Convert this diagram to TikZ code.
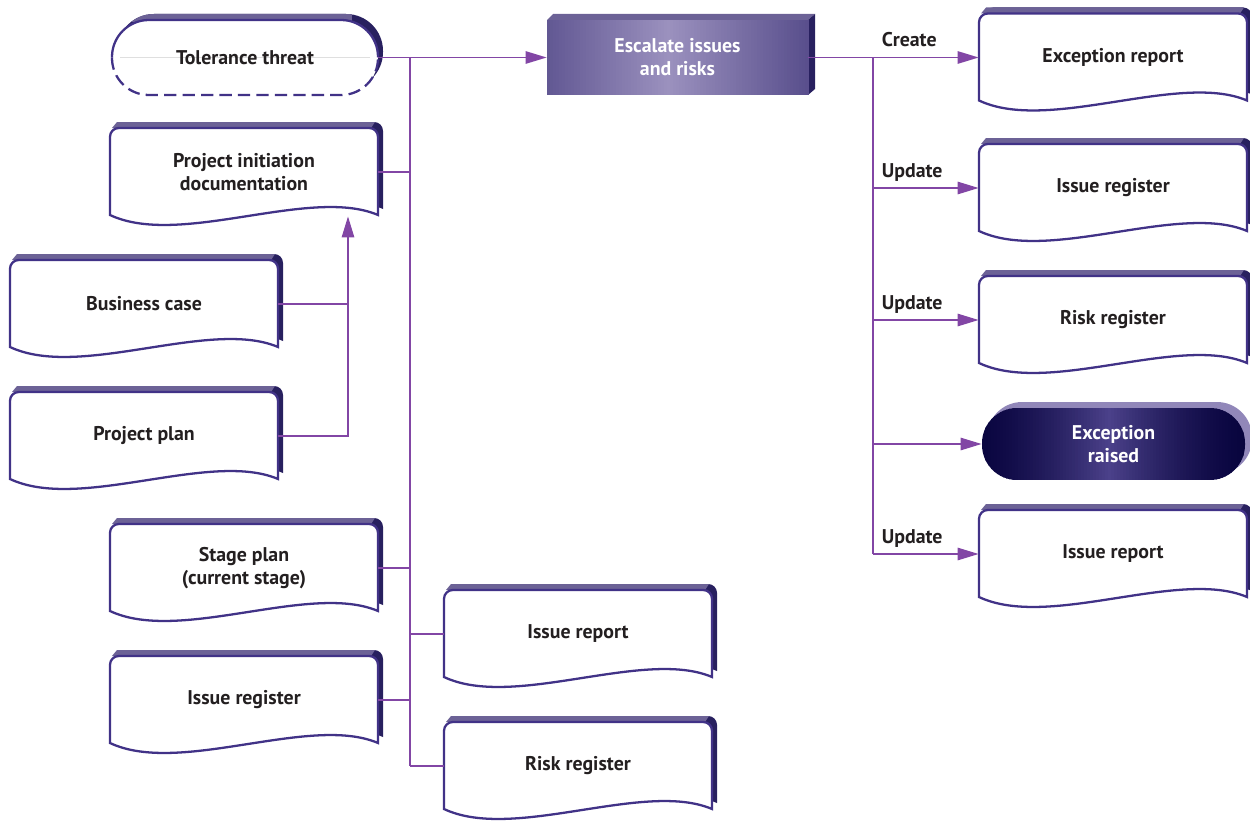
\documentclass[tikz,border=0pt]{standalone}
\usepackage{fontspec}
\setmainfont{PT Sans}
\usepackage{tikz}
\usetikzlibrary{arrows.meta,positioning,calc}
\definecolor{lnkcol}{RGB}{130,70,165}
\definecolor{edgecol}{RGB}{65,50,135}
\definecolor{sidecol}{RGB}{40,32,95}
\definecolor{topcol}{RGB}{108,98,150}
\definecolor{esccol}{RGB}{88,78,140}
\definecolor{esclite}{RGB}{155,145,190}
\definecolor{navycol}{RGB}{8,4,62}
\definecolor{navylite}{RGB}{75,65,138}
\definecolor{raisecol}{RGB}{145,135,185}
\definecolor{txtcol}{RGB}{35,31,32}
\newcommand{\docface}[1]{\path[#1] (0,87) [rounded corners=5pt] -- (0,0) -- (268,0) -- (268,60) [sharp corners] -- (268,87)
  .. controls (200,58) and (70,120) .. (0,87) -- cycle;}
\newcommand{\docbox}[4]{%
  \begin{scope}[shift={(#2,#3)}]
    \begin{scope}[shift={(5,-6)}]\docface{fill=sidecol}\end{scope}
    \fill[topcol] (2,0) -- (7,-6) -- (265,-6) -- (261,0) -- cycle;
    \docface{draw=edgecol, line width=1.3pt, fill=white}
    \node[docnode] (#1) at (134,44) {#4};
  \end{scope}}

\begin{document}
\begin{tikzpicture}[x=0.02cm, y=-0.02cm, >={Triangle[length=12pt,width=7pt]},
  docnode/.style={minimum width=5.36cm, minimum height=1.76cm, inner sep=0pt, align=center,
    text=txtcol, font=\bfseries\fontsize{11.3}{13}\selectfont},
  plainnode/.style={minimum width=5.3cm, minimum height=1.5cm, inner sep=0pt, align=center,
    text=txtcol, font=\bfseries\fontsize{11.3}{13}\selectfont},
  edge/.style={draw=edgecol, line width=1.3pt},
  lnk/.style={draw=lnkcol, line width=1.1pt},
  lbl/.style={pos=0, anchor=base west, xshift=4.5pt, yshift=6pt, inner sep=0pt,
    text=txtcol, font=\bfseries\fontsize{11.3}{13}\selectfont}]
\useasboundingbox (0,0) rectangle (1250,821);

\fill[sidecol, rounded corners=21pt] (117,14) rectangle (383,89);
\begin{scope}
  \clip[rounded corners=21pt] (117,14) rectangle (383,89);
  \fill[topcol] (110,10) rectangle (352,22);
\end{scope}
\fill[white, rounded corners=21pt] (112,20) rectangle (378,95);
\draw[gray!25, very thin] (120,57.5) -- (370,57.5);
\draw[edge, rounded corners=21pt] (112,57.5) -- (112,20) -- (378,20) -- (378,57.5);
\draw[edge, dashed, dash pattern=on 7pt off 3.5pt, rounded corners=21pt] (112,57.5) -- (112,95) -- (378,95) -- (378,57.5);
\node[plainnode] (tt) at (245,57.5) {Tolerance threat};

\fill[topcol] (547,20) -- (553,14) -- (815,14) -- (808,20) -- cycle;
\fill[sidecol] (808,20) -- (815,14) -- (815,89) -- (808,95) -- cycle;
\foreach \i in {0,...,86} {
  \pgfmathsetmacro{\m}{100*(1-abs(\i-40)/47)}
  \fill[esclite!\m!esccol] (547+3*\i,20) rectangle (551+3*\i,95);
}
\node[plainnode, minimum width=5.22cm, text=white] (esc) at (677.5,57.5) {Escalate issues\\and risks};

\fill[raisecol, rounded corners=20pt] (987,402) rectangle (1252,474);
\begin{scope}
  \clip[rounded corners=20pt] (982,408) rectangle (1245,480);
  \foreach \i in {0,...,87} {
    \pgfmathsetmacro{\m}{100*(1-abs(\i-42)/46)^1.5}
    \fill[navylite!\m!navycol] (982+3*\i,408) rectangle (986+3*\i,480);
  }
\end{scope}
\node[plainnode, minimum width=5.26cm, minimum height=1.44cm, text=white] (xr) at (1113.5,444) {Exception\\raised};

\docbox{pid}{110}{128}{Project initiation\\documentation}
\docbox{bc}{10}{260}{Business case}
\docbox{pp}{10}{392}{Project plan}
\docbox{sp}{110}{524}{Stage plan\\(current stage)}
\docbox{irl}{110}{656}{Issue register}
\docbox{irm}{444}{590}{Issue report}
\docbox{rrm}{444}{722}{Risk register}
\docbox{er}{979}{13.5}{Exception report}
\docbox{irr}{979}{144}{Issue register}
\docbox{rrr}{979}{276}{Risk register}
\docbox{irp}{979}{510}{Issue report}

\coordinate (lx) at (410,0);
\coordinate (bx) at (348,0);
\coordinate (rx) at (873,0);

\draw[lnk,->] (tt.east) -- (esc.west);
\draw[lnk] (tt.east -| lx) -- (rrm.west -| lx);
\draw[lnk] (pid.east) -- (pid.east -| lx);
\draw[lnk] (sp.east) -- (sp.east -| lx);
\draw[lnk] (irl.east) -- (irl.east -| lx);
\draw[lnk] (irm.west -| lx) -- (irm.west);
\draw[lnk] (rrm.west -| lx) -- (rrm.west);
\draw[lnk] (bc.east) -- (bc.east -| bx);
\draw[lnk,->] (pp.east) -- (pp.east -| bx) -- (pid.south -| bx);

\draw[lnk] (esc.east) -- (esc.east -| rx) -- (irp.west -| rx);
\draw[lnk,->] (er.west -| rx) -- node[lbl] {Create} (er.west);
\draw[lnk,->] (irr.west -| rx) -- node[lbl] {Update} (irr.west);
\draw[lnk,->] (rrr.west -| rx) -- node[lbl] {Update} (rrr.west);
\draw[lnk,->] (xr.west -| rx) -- (xr.west);
\draw[lnk,->] (irp.west -| rx) -- node[lbl] {Update} (irp.west);
\end{tikzpicture}
\end{document}
